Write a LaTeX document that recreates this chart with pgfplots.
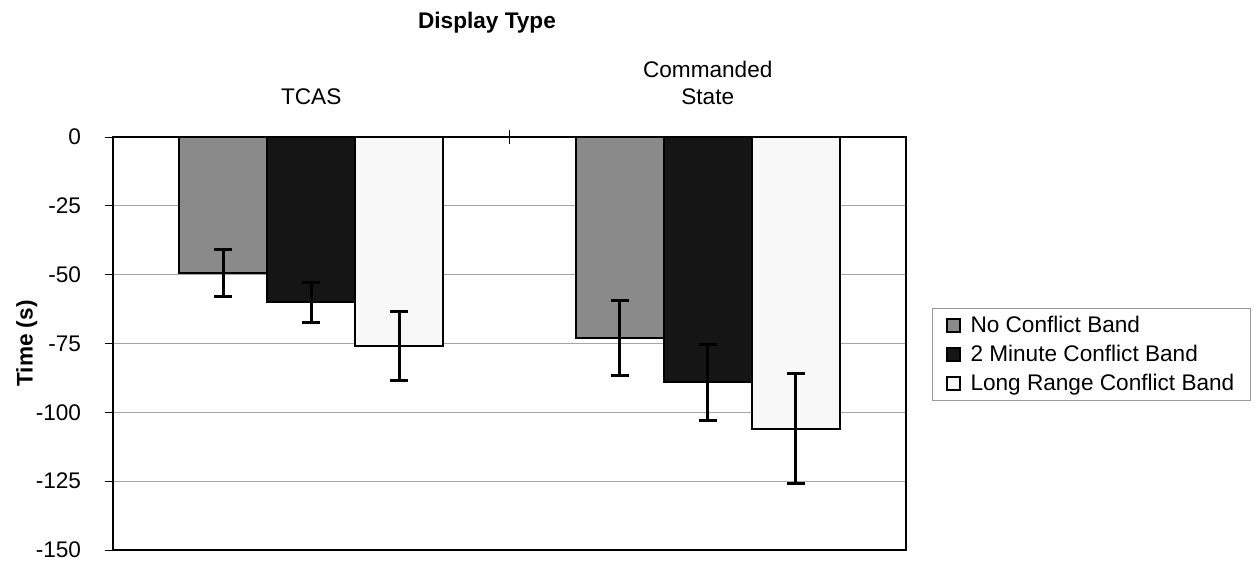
\documentclass[border=0pt]{standalone}
\usepackage{fontspec}
\setmainfont{Liberation Sans}
\usepackage{pgfplots}
\pgfplotsset{compat=1.18}
\definecolor{barGray}{HTML}{8A8A8A}
\definecolor{barBlack}{HTML}{151515}
\definecolor{barWhite}{HTML}{F8F8F8}
\pgfplotsset{
  sqlegend/.style={legend image code/.code={%
    \draw[##1,line width=1pt] (1pt,-3.4pt) rectangle (7.8pt,3.4pt);
    \path[draw=none,fill=none] (0pt,0pt) rectangle (11pt,0.1pt);}},
}
\begin{document}
\fontsize{11.3}{13.6}\selectfont
\begin{tikzpicture}
\begin{axis}[
  scale only axis, width=396.5pt, height=206.5pt,
  clip=false,
  xmin=-0.5, xmax=1.5, ymin=-150, ymax=0,
  ytick={-150,-125,...,0},
  /pgf/number format/assume math mode=true,
  ytick pos=left,
  y tick style={black, line width=0.5pt},
  tick align=outside,
  major tick length=4pt,
  yticklabel style={xshift=-8pt},
  xtick={0,1}, xticklabels={TCAS,{Commanded\\State}},
  xticklabel pos=upper, xtick pos=upper,
  xticklabel style={align=center, yshift=8pt},
  x tick style={draw=none},
  extra x ticks={0.5},
  extra x tick labels={},
  extra x tick style={x tick style={draw=black, line width=0.5pt}, major tick length=7pt, tick align=center, grid=none},
  ymajorgrids, grid style={gray!70, line width=0.5pt},
  axis line style={line width=1.3pt},
  ybar=0pt, bar width=44pt,
  ylabel={\bfseries Time (s)},
  ylabel shift=-8.5pt,
  legend style={at={(1,0.473)}, anchor=west, xshift=13pt, draw=gray!80, line width=0.5pt,
    font=\fontsize{11.3}{13.6}\selectfont, row sep=0.6pt, inner xsep=6pt, inner ysep=1.5pt,
    cells={anchor=west}},
]
\addplot+[ybar, fill=barGray, draw=black, line width=1.2pt, sqlegend,
  error bars/.cd, y dir=both, y explicit,
  error bar style={line width=1.5pt, black},
  error mark options={rotate=90, mark size=4.5pt, line width=1.5pt, black}]
  coordinates {(0,-49.5) +- (0,8.5) (1,-73) +- (0,13.5)};
\addlegendentry{No Conflict Band}
\addplot+[ybar, fill=barBlack, draw=black, line width=1.2pt, sqlegend,
  error bars/.cd, y dir=both, y explicit,
  error bar style={line width=1.5pt, black},
  error mark options={rotate=90, mark size=4.5pt, line width=1.5pt, black}]
  coordinates {(0,-60) +- (0,7.2) (1,-89) +- (0,13.8)};
\addlegendentry{2 Minute Conflict Band}
\addplot+[ybar, fill=barWhite, draw=black, line width=1.2pt, sqlegend,
  error bars/.cd, y dir=both, y explicit,
  error bar style={line width=1.5pt, black},
  error mark options={rotate=90, mark size=4.5pt, line width=1.5pt, black}]
  coordinates {(0,-76) +- (0,12.5) (1,-106) +- (0,20)};
\addlegendentry{Long Range Conflict Band}
\node[font=\bfseries] at (rel axis cs:0.4716,1) [yshift=57pt] {Display Type};
\end{axis}
\pgfresetboundingbox
\path ([shift={(-56.5pt,-6.5pt)}]current axis.south west) rectangle ([shift={(572.5pt,275pt)}]current axis.south west);
\end{tikzpicture}
\end{document}
